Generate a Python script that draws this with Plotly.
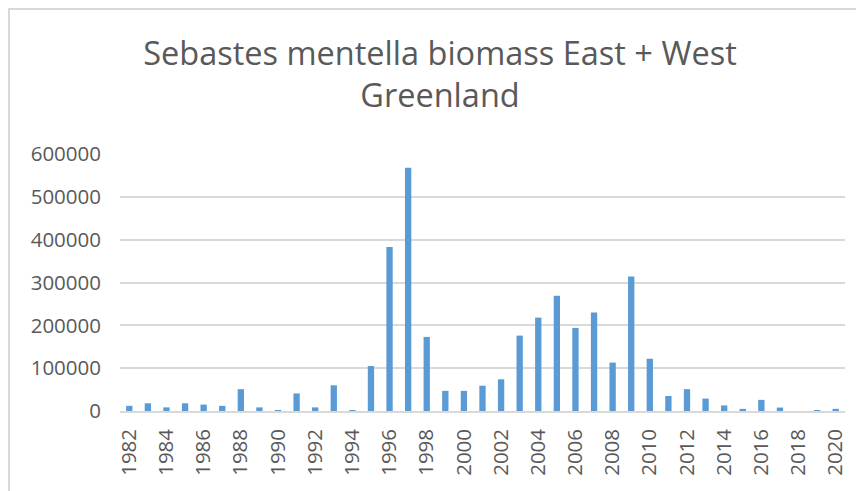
import plotly.graph_objects as go

years = list(range(1982, 2021))
biomass = [12000, 18000, 8500, 18000, 15000, 12000, 51000, 8500, 2000, 41000,
           8500, 60000, 1500, 105000, 383000, 568000, 173000, 47000, 47000, 59000,
           74000, 176000, 218000, 269000, 194000, 230000, 113000, 314000, 122000, 35000,
           51000, 29000, 13000, 5000, 26000, 8000, 0, 1000, 5000]
tick_years = list(range(1982, 2021, 2))
y_ticks = [0, 100000, 200000, 300000, 400000, 500000, 600000]

fig = go.Figure(go.Bar(x=years, y=biomass, marker_color="#5B9BD5",
                       marker_line_width=0))

# page body has an 8px margin; figure sized to fit inside the 864x491 window
OFF = 8
W, H = 864 - OFF, 491 - OFF
L, R, T, B = 120 - OFF, 19, 154 - OFF, 80
pw, ph = W - L - R, H - T - B

fig.update_layout(
    width=W, height=H,
    margin=dict(l=L, r=R, t=T, b=B),
    paper_bgcolor="white", plot_bgcolor="white",
    bargap=0.66,
    showlegend=False,
    title=dict(text="Sebastes mentella biomass East + West<br>Greenland",
               x=(440 - OFF) / W, xanchor="center",
               y=1 - (65 - OFF) / H, yanchor="middle",
               font=dict(family="Open Sans", size=32.5, color="#595959")),
    font=dict(family="Open Sans", size=20.5, color="#595959"),
)
fig.update_xaxes(
    tickmode="array", tickvals=tick_years, ticktext=[str(v) for v in tick_years],
    tickangle=-90, range=[1981.5, 2020.5], showgrid=False,
    showline=True, linecolor="#d9d9d9", linewidth=1.5, ticks="",
    ticklabelstandoff=8,
    tickfont=dict(size=20.5, color="#595959"),
)
fig.update_yaxes(
    tickmode="array", tickvals=y_ticks, ticktext=[str(v) for v in y_ticks],
    range=[0, 600000], showgrid=True, gridcolor="#d9d9d9", gridwidth=1.5,
    zeroline=False, showline=False, ticks="", ticklabelstandoff=18,
    tickfont=dict(size=20.5, color="#595959"),
)
# chart-area border (left/top visible in the window)
fig.add_shape(type="rect", xref="paper", yref="paper",
              x0=(1 - L) / pw, x1=(W + 20 - L) / pw,
              y0=-(B + 20) / ph, y1=(H - B - 1) / ph,
              line=dict(color="#d9d9d9", width=2), fillcolor="rgba(0,0,0,0)",
              layer="below")

fig.write_html("out.html")
